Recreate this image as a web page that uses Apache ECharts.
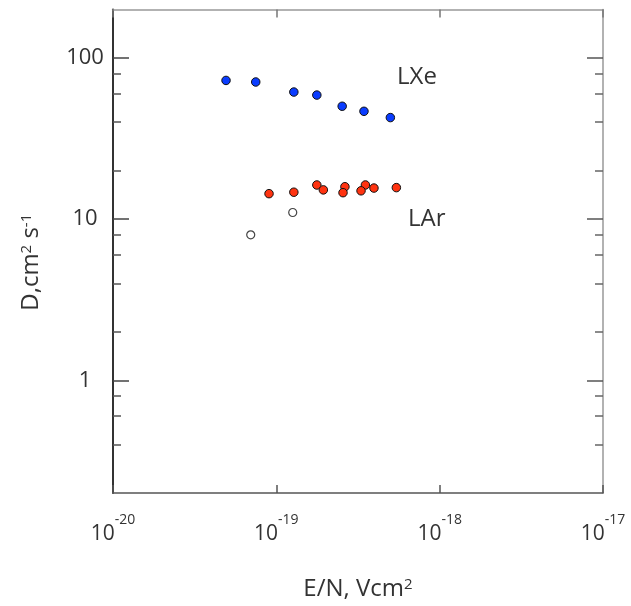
<!DOCTYPE html>
<html><head><meta charset="utf-8">
<script src="https://cdn.jsdelivr.net/npm/echarts@6/dist/echarts.min.js"></script>
<style>html,body{margin:0;padding:0;background:#fff}#c{width:631px;height:606px}</style>
</head><body><div id="c"></div>
<script>
// Data (E/N in V cm^2, D in cm^2 s^-1)
const lxeEN = [4.92e-20, 7.48e-20, 1.28e-19, 1.77e-19, 2.53e-19, 3.44e-19, 4.99e-19];
const lxeD  = [72.6, 71.0, 61.5, 58.9, 50.2, 46.7, 42.7];
const larEN = [9.02e-20, 1.28e-19, 1.77e-19, 1.94e-19, 2.63e-19, 2.56e-19, 3.51e-19, 3.30e-19, 3.96e-19, 5.43e-19];
const larD  = [14.4, 14.7, 16.3, 15.2, 15.9, 14.6, 16.3, 15.0, 15.6, 15.7];
const larOpenEN = [6.97e-20, 1.26e-19];
const larOpenD  = [8.0, 11.0];
const yMajorTicks = [1, 10, 100];
const yMinorTicks = [0.4, 0.6, 0.8, 2, 4, 6, 8, 20, 40, 60, 80];

const FONT = 'Open Sans';
const zip = (a, b) => a.map((v, i) => [v, b[i]]);

const chart = echarts.init(document.getElementById('c'), null, {renderer: 'canvas'});

const yBase = {type: 'log', min: 0.2, max: 200, logBase: 10, splitLine: {show: false}, minorTick: {show: false}};
const xBase = {type: 'log', min: 1e-20, max: 1e-17, logBase: 10, splitLine: {show: false}};

chart.setOption({
  animation: false,
  backgroundColor: '#fff',
  grid: {left: 113, right: 28, top: 9.5, bottom: 112, containLabel: false},
  xAxis: [
    Object.assign({}, xBase, {
      position: 'bottom',
      axisLine: {lineStyle: {color: '#555', width: 1.5}},
      axisTick: {inside: true, length: 8, lineStyle: {color: '#555', width: 1.5}},
      axisLabel: {
        margin: 20,
        formatter: v => '{b|10}{s|' + Math.round(Math.log10(v)) + '}',
        rich: {
          b: {fontFamily: FONT, fontSize: 21, color: '#333', padding: [21, 0, 0, 0], lineHeight: 21},
          s: {fontFamily: FONT, fontSize: 14, color: '#333', verticalAlign: 'top', lineHeight: 14}
        }
      },
      name: 'E/N, Vcm{s|2}',
      nameLocation: 'middle',
      nameGap: 84,
      nameTextStyle: {
        fontFamily: FONT, fontSize: 24, color: '#333',
        rich: {
          s: {fontFamily: FONT, fontSize: 15, color: '#333', verticalAlign: 'top', lineHeight: 15}
        }
      }
    }),
    Object.assign({}, xBase, {
      position: 'top',
      axisLine: {lineStyle: {color: '#999', width: 1.5}},
      axisTick: {inside: true, length: 8, lineStyle: {color: '#777', width: 1.5}},
      axisLabel: {show: false}
    })
  ],
  yAxis: [
    Object.assign({}, yBase, {
      position: 'left',
      axisLine: {lineStyle: {color: '#333', width: 2}},
      axisTick: {inside: true, length: 16, customValues: yMajorTicks, lineStyle: {color: '#444', width: 1.5}},
      axisLabel: {customValues: yMajorTicks, fontFamily: FONT, fontSize: 22, color: '#333', margin: 28,
                  align: 'center', formatter: v => String(v)},
      name: 'D,cm{s|2} s{s|-1}',
      nameLocation: 'middle',
      nameRotate: 90,
      nameGap: 70,
      nameTextStyle: {
        fontFamily: FONT, fontSize: 24, color: '#333', padding: [0, 22, 0, 0],
        rich: {s: {fontFamily: FONT, fontSize: 15, color: '#333', verticalAlign: 'top', lineHeight: 15}}
      }
    }),
    Object.assign({}, yBase, {
      position: 'left',
      axisLine: {show: false},
      axisTick: {inside: true, length: 8, customValues: yMinorTicks, lineStyle: {color: '#555', width: 1.5}},
      axisLabel: {show: false}
    }),
    Object.assign({}, yBase, {
      position: 'right',
      axisLine: {lineStyle: {color: '#999', width: 1.5}},
      axisTick: {inside: true, length: 16, customValues: yMajorTicks, lineStyle: {color: '#555', width: 1.5}},
      axisLabel: {show: false}
    }),
    Object.assign({}, yBase, {
      position: 'right',
      axisLine: {show: false},
      axisTick: {inside: true, length: 8, customValues: yMinorTicks, lineStyle: {color: '#666', width: 1.5}},
      axisLabel: {show: false}
    })
  ],
  series: [
    {type: 'scatter', name: 'LXe', xAxisIndex: 0, yAxisIndex: 0, data: zip(lxeEN, lxeD), symbolSize: 8.5,
     itemStyle: {color: '#0a3cff', borderColor: '#111', borderWidth: 1, opacity: 1}},
    {type: 'scatter', name: 'LAr', xAxisIndex: 0, yAxisIndex: 0, data: zip(larEN, larD), symbolSize: 8.5,
     itemStyle: {color: '#ff3310', borderColor: '#111', borderWidth: 1, opacity: 1}},
    {type: 'scatter', name: 'LAr open', xAxisIndex: 0, yAxisIndex: 0, data: zip(larOpenEN, larOpenD), symbolSize: 8,
     itemStyle: {color: '#fff', borderColor: '#444', borderWidth: 1.2, opacity: 1}}
  ],
  graphic: [
    {type: 'text', left: 397, top: 65, style: {text: 'LXe', fontFamily: FONT, fontSize: 24, fill: '#333'}},
    {type: 'text', left: 408, top: 207, style: {text: 'LAr', fontFamily: FONT, fontSize: 24, fill: '#333'}}
  ]
});
</script>
</body></html>
